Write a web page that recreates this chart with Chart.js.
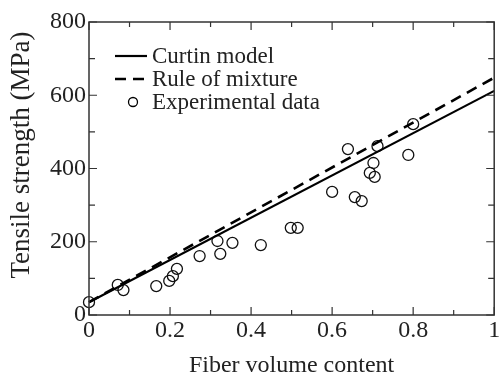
<!DOCTYPE html>
<html>
<head>
<meta charset="utf-8">
<script src="https://cdn.jsdelivr.net/npm/chart.js@4.4.1/dist/chart.umd.min.js"></script>
<style>
html,body{margin:0;padding:0;background:#fff;}
#wrap{width:501px;height:374px;position:relative;}
.probe{position:absolute;left:-1000px;top:0;font-family:"Liberation Serif";font-size:24px;}
</style>
</head>
<body>
<div class="probe">Fiber 0.2 Tensile</div>
<div id="wrap"><canvas id="c" width="501" height="374"></canvas></div>
<script>
// ---- data ----
const lineX = [0, 1];
const curtinY = [35, 612];
const ruleY = [35, 648];
const expX = [0, 0.071, 0.085, 0.166, 0.198, 0.207, 0.217, 0.273, 0.317, 0.324, 0.354, 0.424, 0.498, 0.515, 0.600, 0.639, 0.656, 0.673, 0.693, 0.705, 0.702, 0.712, 0.788, 0.800];
const expY = [35, 82, 68, 79, 93, 106, 126, 161, 202, 167, 197, 191, 238, 238, 336, 453, 322, 311, 388, 377, 415, 461, 437, 521];
const xTickLabels = ['0', '0.2', '0.4', '0.6', '0.8', '1'];
const yTickLabels = ['0', '200', '400', '600', '800'];
const seriesNames = ['Curtin model', 'Rule of mixture', 'Experimental data'];
const xTitle = 'Fiber volume content';
const yTitle = 'Tensile strength (MPa)';

const FONT = "'Liberation Serif', serif";
const INK = '#222';

const toPts = (xs, ys) => xs.map((x, i) => ({x: x, y: ys[i]}));

const framePlugin = {
  id: 'frame',
  afterDatasetsDraw(chart) {
    const {ctx, chartArea: a, scales} = chart;
    const xs = scales.x, ys = scales.y;
    ctx.save();
    ctx.strokeStyle = '#333';
    ctx.lineWidth = 1.5;
    ctx.strokeRect(a.left, a.top, a.right - a.left, a.bottom - a.top);
    ctx.lineWidth = 1.2;
    ctx.beginPath();
    for (let i = 0; i <= 10; i++) {
      const v = i / 10;
      const p = xs.getPixelForValue(v);
      const len = (i % 2 === 0) ? 8 : 5;
      ctx.moveTo(p, a.bottom); ctx.lineTo(p, a.bottom - len);
      ctx.moveTo(p, a.top); ctx.lineTo(p, a.top + len);
    }
    for (let i = 0; i <= 8; i++) {
      const v = i * 100;
      const p = ys.getPixelForValue(v);
      const len = (i % 2 === 0) ? 8 : 6;
      ctx.moveTo(a.left, p); ctx.lineTo(a.left + len, p);
      ctx.moveTo(a.right, p); ctx.lineTo(a.right - len, p);
    }
    ctx.stroke();
    ctx.restore();
  },
  afterDraw(chart) {
    const {ctx, chartArea: a} = chart;
    const ds = chart.data.datasets;
    ctx.save();
    ctx.fillStyle = INK;
    ctx.font = '24px ' + FONT;
    ctx.textAlign = 'center';
    ctx.textBaseline = 'alphabetic';
    ctx.fillText(xTitle, (a.left + a.right) / 2, 372);
    ctx.save();
    ctx.translate(29, 155);
    ctx.rotate(-Math.PI / 2);
    ctx.font = '27px ' + FONT;
    ctx.fillText(yTitle, 0, 0);
    ctx.restore();
    const rows = [56, 79, 102];
    ctx.font = '23px ' + FONT;
    ctx.textAlign = 'left';
    ctx.textBaseline = 'middle';
    for (let i = 0; i < 3; i++) {
      const y = rows[i];
      const d = ds[i];
      ctx.strokeStyle = '#000';
      if (i < 2) {
        ctx.lineWidth = d.borderWidth;
        ctx.setLineDash(d.borderDash || []);
        ctx.beginPath();
        ctx.moveTo(115, y); ctx.lineTo(147, y);
        ctx.stroke();
        ctx.setLineDash([]);
      } else {
        ctx.lineWidth = d.borderWidth;
        ctx.beginPath();
        ctx.arc(133, y, 4.5, 0, Math.PI * 2);
        ctx.stroke();
      }
      ctx.fillStyle = INK;
      ctx.fillText(d.label, 152, y + 1);
    }
    ctx.restore();
  }
};

function draw() {
  new Chart(document.getElementById('c'), {
    type: 'scatter',
    data: {
      datasets: [
        {label: seriesNames[0], type: 'line', data: toPts(lineX, curtinY), borderColor: '#000', borderWidth: 2.2, pointRadius: 0, fill: false, clip: false},
        {label: seriesNames[1], type: 'line', data: toPts(lineX, ruleY), borderColor: '#000', borderWidth: 2.6, borderDash: [11, 7], pointRadius: 0, fill: false, clip: false},
        {label: seriesNames[2], data: toPts(expX, expY), borderColor: '#111', borderWidth: 1.3, backgroundColor: 'rgba(0,0,0,0)', pointRadius: 5.5, pointHoverRadius: 5.5, clip: false}
      ]
    },
    options: {
      responsive: false,
      animation: false,
      events: [],
      layout: {padding: {left: 0, right: 2, top: 22, bottom: 0}},
      plugins: {legend: {display: false}, tooltip: {enabled: false}},
      scales: {
        x: {
          type: 'linear', min: 0, max: 1,
          grid: {display: false, drawTicks: false},
          border: {display: false},
          ticks: {
            stepSize: 0.2, autoSkip: false, maxRotation: 0, padding: 1,
            color: INK, font: {family: FONT, size: 24},
            callback: (v, i) => xTickLabels[i]
          },
          afterFit(s) { s.height = 59; s.paddingLeft = 0; s.paddingRight = 0; }
        },
        y: {
          type: 'linear', min: 0, max: 800,
          grid: {display: false, drawTicks: false},
          border: {display: false},
          ticks: {
            stepSize: 200, autoSkip: false, padding: 3,
            color: INK, font: {family: FONT, size: 24},
            callback: (v, i) => yTickLabels[i]
          },
          afterFit(s) { s.width = 89; s.paddingTop = 0; s.paddingBottom = 0; }
        }
      }
    },
    plugins: [framePlugin]
  });
}

if (document.fonts && document.fonts.load) {
  Promise.all([
    document.fonts.load("24px 'Liberation Serif'"),
    document.fonts.load("27px 'Liberation Serif'")
  ]).then(draw, draw);
} else {
  draw();
}
</script>
</body>
</html>
